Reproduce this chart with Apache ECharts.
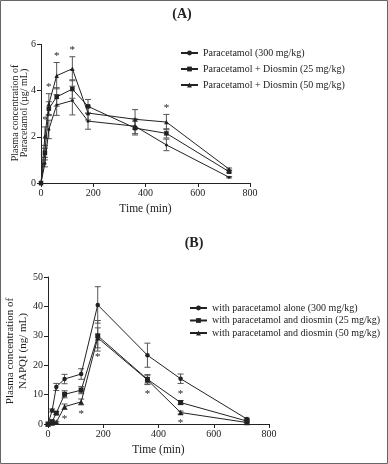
<!DOCTYPE html>
<html><head><meta charset="utf-8">
<script src="https://cdn.jsdelivr.net/npm/echarts@6/dist/echarts.min.js"></script>
<style>html,body{margin:0;padding:0;background:#fff}#c{width:388px;height:464px}</style>
</head><body><div id="c"></div>
<script>
const times = [0, 15, 30, 60, 120, 180, 360, 480, 720];
const xTicks = [0, 200, 400, 600, 800];
// Panel A: paracetamol (µg/mL)
const namesA = ['Paracetamol (300 mg/kg)', 'Paracetamol + Diosmin (25 mg/kg)', 'Paracetamol + Diosmin (50 mg/kg)'];
const paraA = [0, 0.85, 2.32, 3.38, 3.57, 2.68, 2.46, 1.65, 0.25];
const d25A = [0, 1.31, 3.22, 3.73, 4.07, 3.32, 2.38, 2.15, 0.49];
const d50A = [0, 2.03, 3.42, 4.65, 4.95, 3.03, 2.76, 2.64, 0.6];
const paraAErr = [0, 0.15, 0.4, 0.45, 0.62, 0.35, 0.32, 0.25, 0.03];
const d25AErr = [0, 0.2, 0.3, 0.4, 0.4, 0.3, 0.3, 0.2, 0.05];
const d50AErr = [0, 0.4, 0.45, 0.57, 0.52, 0.3, 0.42, 0.33, 0.05];
const starsA = [1, 2, 3, 4, 7]; // above 50 mg/kg series
// Panel B: NAPQI (ng/mL)
const namesB = ['with paracetamol alone (300 mg/kg)', 'with paracetamol and diosmin (25 mg/kg)', 'with paracetamol and diosmin (50 mg/kg)'];
const paraB = [0, 4.6, 12.6, 15.3, 17.0, 40.5, 23.4, 15.4, 1.7];
const d25B = [0, 0.8, 3.7, 10.1, 11.5, 30.0, 15.2, 7.3, 1.0];
const d50B = [0, 0.3, 0.6, 5.9, 7.5, 29.3, 15.0, 3.9, 0.5];
const paraBErr = [0, 0.5, 1.2, 1.6, 1.8, 6.2, 4.1, 1.6, 0.3];
const d25BErr = [0, 0.3, 0.5, 1.2, 1.2, 5.2, 1.6, 0.7, 0.3];
const d50BErr = [0, 0.2, 0.3, 0.9, 1.0, 3.4, 1.6, 0.5, 0.2];
const starsBelowB = [3, 4, 5, 6, 7]; // below 50 mg/kg series
const starsAboveB = [7]; // above 25 mg/kg series

const FONT = 'Liberation Serif';
const INK = '#222';
const chart = echarts.init(document.getElementById('c'));

function pts(v) { return times.map((t, i) => [t, v[i]]); }
function lineS(name, v, sym, size, gi) {
  return { name, type: 'line', xAxisIndex: gi, yAxisIndex: gi, data: pts(v), symbol: sym, symbolSize: size,
    lineStyle: { color: INK, width: 1 }, itemStyle: { color: INK }, z: 3, animation: false };
}
function errS(v, e, gi) {
  return { type: 'custom', xAxisIndex: gi, yAxisIndex: gi, data: times.map((t, i) => [t, v[i], e[i]]), z: 2, silent: true, animation: false,
    renderItem(params, api) {
      const x = api.value(0), y = api.value(1), er = api.value(2);
      if (!er) return null;
      const lo = api.coord([x, y - er]), hi = api.coord([x, y + er]);
      const st = { stroke: '#555', lineWidth: 1 };
      return { type: 'group', children: [
        { type: 'line', shape: { x1: lo[0], y1: lo[1], x2: hi[0], y2: hi[1] }, style: st },
        { type: 'line', shape: { x1: lo[0] - 3, y1: lo[1], x2: lo[0] + 3, y2: lo[1] }, style: st },
        { type: 'line', shape: { x1: hi[0] - 3, y1: hi[1], x2: hi[0] + 3, y2: hi[1] }, style: st }
      ] };
    } };
}
function starS(idx, v, e, dir, gi) {
  return { type: 'custom', xAxisIndex: gi, yAxisIndex: gi, data: idx.map(i => [times[i], v[i] + dir * e[i]]), z: 4, silent: true, animation: false,
    renderItem(params, api) {
      const p = api.coord([api.value(0), api.value(1)]);
      return { type: 'text', x: p[0], y: p[1] + (dir > 0 ? -1 : 4), style: { text: '*', fontFamily: FONT, fontSize: 11, fill: INK, align: 'center', verticalAlign: dir > 0 ? 'bottom' : 'top' } };
    } };
}
const axisCommon = {
  axisLine: { show: true, lineStyle: { color: INK, width: 1 } },
  axisTick: { show: true, length: 4, lineStyle: { color: INK } },
  axisLabel: { color: INK, fontFamily: FONT, fontSize: 10, margin: 5 },
  splitLine: { show: false }
};
const xName = { name: 'Time (min)', nameLocation: 'middle', nameTextStyle: { color: INK, fontFamily: FONT, fontSize: 11.5 } };

chart.setOption({
  animation: false,
  backgroundColor: '#fff',
  grid: [
    { left: 41, top: 44.5, width: 209, height: 138.5 },
    { left: 48, top: 277, width: 221, height: 147 }
  ],
  xAxis: [
    Object.assign({ type: 'value', gridIndex: 0, min: xTicks[0], max: xTicks[xTicks.length - 1], interval: 200, nameGap: 20 }, axisCommon, xName),
    Object.assign({ type: 'value', gridIndex: 1, min: xTicks[0], max: xTicks[xTicks.length - 1], interval: 200, nameGap: 20 }, axisCommon, xName)
  ],
  yAxis: [
    Object.assign({ type: 'value', gridIndex: 0, min: 0, max: 6, interval: 2 }, axisCommon),
    Object.assign({ type: 'value', gridIndex: 1, min: 0, max: 50, interval: 10 }, axisCommon)
  ],
  legend: [
    { data: namesA, orient: 'vertical', left: 175, top: 43, itemWidth: 17, itemHeight: 6, itemGap: 6,
      textStyle: { color: INK, fontFamily: FONT, fontSize: 10, lineHeight: 10 }, selectedMode: false },
    { data: namesB, orient: 'vertical', left: 184, top: 298, itemWidth: 17, itemHeight: 6, itemGap: 2.5,
      textStyle: { color: INK, fontFamily: FONT, fontSize: 10, lineHeight: 10 }, selectedMode: false }
  ],
  graphic: [
    { type: 'rect', shape: { x: 0.5, y: 0.5, width: 387, height: 463 }, style: { fill: 'none', stroke: '#666', lineWidth: 1 }, silent: true },
    { type: 'text', x: 182, y: 14, style: { text: '(A)', fontFamily: FONT, fontWeight: 'bold', fontSize: 14, fill: INK, align: 'center', verticalAlign: 'middle' } },
    { type: 'text', x: 194, y: 243, style: { text: '(B)', fontFamily: FONT, fontWeight: 'bold', fontSize: 14, fill: INK, align: 'center', verticalAlign: 'middle' } },
    { type: 'text', x: 19.5, y: 113, rotation: Math.PI / 2, style: { text: 'Plasma concentration of\nParacetamol (µg/ mL)', fontFamily: FONT, fontSize: 10, lineHeight: 9, fill: INK, align: 'center', verticalAlign: 'middle' } },
    { type: 'text', x: 16.5, y: 351, rotation: Math.PI / 2, style: { text: 'Plasma concentration of\nNAPQI (ng/ mL)', fontFamily: FONT, fontSize: 11, lineHeight: 13, fill: INK, align: 'center', verticalAlign: 'middle' } }
  ],
  series: [
    errS(paraA, paraAErr, 0), errS(d25A, d25AErr, 0), errS(d50A, d50AErr, 0),
    lineS(namesA[0], paraA, 'circle', 3, 0),
    lineS(namesA[1], d25A, 'rect', 4.5, 0),
    lineS(namesA[2], d50A, 'triangle', 4.5, 0),
    starS(starsA, d50A, d50AErr, 1, 0),
    errS(paraB, paraBErr, 1), errS(d25B, d25BErr, 1), errS(d50B, d50BErr, 1),
    lineS(namesB[0], paraB, 'circle', 4.5, 1),
    lineS(namesB[1], d25B, 'rect', 5, 1),
    lineS(namesB[2], d50B, 'triangle', 5.5, 1),
    starS(starsBelowB, d50B, d50BErr, -1, 1),
    starS(starsAboveB, d25B, d25BErr, 1, 1)
  ]
});
</script></body></html>
